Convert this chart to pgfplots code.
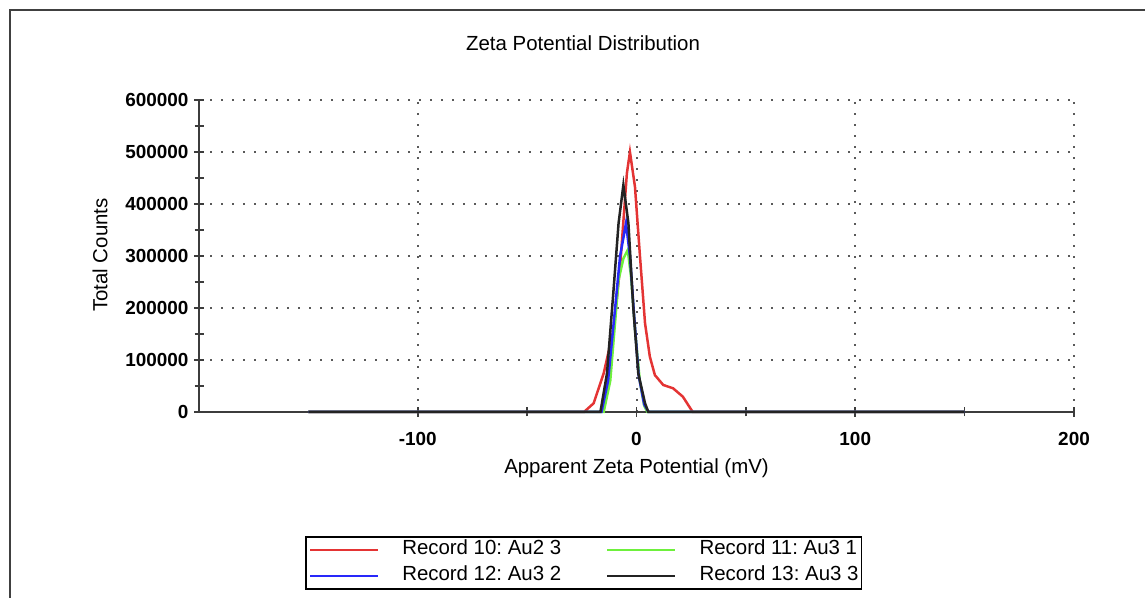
\documentclass[border=0pt]{standalone}
\usepackage{pgfplots}
\pgfplotsset{compat=1.18}
\usepackage{fontspec}
\setmainfont{Liberation Sans}
\frenchspacing
\definecolor{cred}{RGB}{228,52,52}
\definecolor{cgreen}{RGB}{110,240,60}
\definecolor{cblue}{RGB}{40,40,250}
\definecolor{cblack}{RGB}{35,35,35}
\definecolor{axgray}{RGB}{60,60,60}
\begin{document}
\begin{tikzpicture}[x=1bp,y=1bp]
\path[use as bounding box] (0,0) rectangle (1145,598);
\draw[line width=1.8bp, black!75] (10,0) -- (10,588) -- (1145,588);
\begin{axis}[
  scale only axis,
  width=875bp, height=312bp,
  at={(199bp,186bp)}, anchor=south west,
  xmin=-200, xmax=200, ymin=0, ymax=600000,
  axis x line*=bottom, axis y line*=left,
  axis line style={line width=2bp, axgray, -},
  xtick={-100,0,100,200},
  minor x tick num=1,
  ytick={0,100000,200000,300000,400000,500000,600000},
  minor y tick num=1,
  tick align=center,
  major tick length=10bp, minor tick length=9bp,
  every tick/.style={line width=1.6bp, axgray},
  grid=major,
  major grid style={line width=2bp, black!65, dash pattern=on 1.8bp off 9.2bp},
  scaled y ticks=false,
  /pgf/number format/.cd, fixed, 1000 sep={}, assume math mode=true,
  /pgfplots/.cd,
  ticklabel style={font=\bfseries\fontsize{19}{19}\selectfont},
  xticklabel style={yshift=-12bp},
  yticklabel style={xshift=-2bp},
  title={Zeta Potential Distribution},
  title style={at={(0.4389,1.163)}, anchor=center, font=\fontsize{20.5}{20.5}\selectfont},
  xlabel={Apparent Zeta Potential (mV)},
  xlabel style={at={(0.5,-0.181)}, anchor=center, font=\fontsize{20.5}{20.5}\selectfont},
  ylabel={Total Counts},
  ylabel style={at={(-0.1131,0.503)}, anchor=center, font=\fontsize{20.5}{20.5}\selectfont},
  legend columns=2,
  legend cell align=left,
  legend image code/.code={\draw[#1, line width=2.4bp] (0bp,0bp) -- (68bp,0bp);},
  legend style={at={(0.1211,-0.3974)}, anchor=north west, draw=black, line width=1.8bp,
    inner xsep=3bp, inner ysep=3bp, font=\fontsize{20.5}{20.5}\selectfont,
    nodes={inner sep=0pt, text height=15bp, text depth=5bp},
    row sep=6bp,
    /tikz/every odd column/.append style={column sep=23bp},
    /tikz/every even column/.append style={column sep=45bp}},
  clip=false,
]
\addplot[cred, line width=2.5bp] coordinates {
(-150,0) (-24,0) (-19.6,16700) (-15,74400) (-10.5,157700) (-7.5,279500)
(-4.4,459000) (-3,500000) (-0.7,433000) (1.6,298600) (3.9,170600) (6.1,106300)
(8.4,71000) (12.2,52000) (16.7,45600) (21.2,29400) (25.7,0) (150,0)};
\addlegendentry{Record 10: Au2 3}
\addplot[cgreen, line width=2.5bp] coordinates {
(-150,0) (-15,0) (-12,60000) (-8.2,254000) (-6,295000) (-4,311500) (-2.5,260000)
(-0.5,150000) (1.5,60000) (3.5,12000) (5,0) (150,0)};
\addlegendentry{Record 11: Au3 1}
\addplot[cblue, line width=2.5bp] coordinates {
(-150,0) (-16,0) (-13,60000) (-10,190000) (-7.5,300000) (-4.8,363000) (-3,300000)
(-1,180000) (1,70000) (3.5,15000) (5.5,0) (150,0)};
\addlegendentry{Record 12: Au3 2}
\addplot[cblack, line width=2.5bp] coordinates {
(-150,0) (-16.5,0) (-13.5,74000) (-10.5,234600) (-8.2,363000) (-6,436500)
(-3.7,363000) (-1.5,202500) (0.8,74400) (3.9,16700) (5.4,0) (150,0)};
\addlegendentry{Record 13: Au3 3}
\end{axis}
\end{tikzpicture}
\end{document}
